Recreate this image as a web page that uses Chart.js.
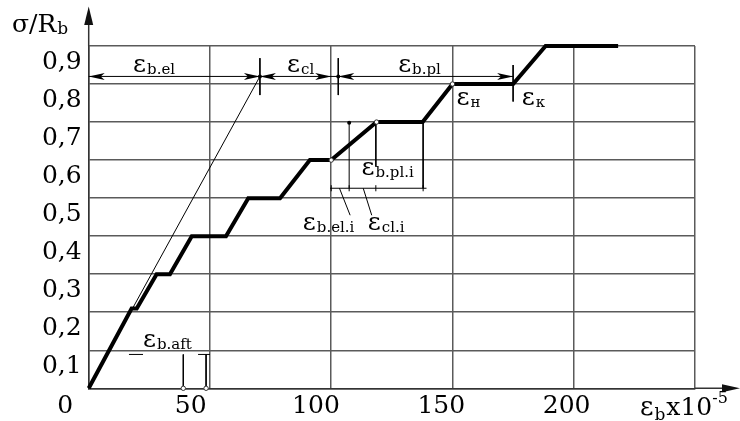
<!DOCTYPE html>
<html><head><meta charset="utf-8">
<script src="https://cdn.jsdelivr.net/npm/chart.js@4/dist/chart.umd.min.js"></script>
<style>html,body{margin:0;padding:0;background:#fff}canvas{display:block}</style>
</head><body>
<canvas id="c" width="740" height="421"></canvas>
<script>
// ---- data: strain εb (x10^-5) vs relative stress σ/Rb ----
const curveX = [0, 17.7, 19.8, 28, 33.5, 42.5, 56.6, 65.8, 78.9, 91.2, 100, 118.7, 137.7, 150, 175, 188.4, 218.3];
const curveY = [0, 0.21, 0.21, 0.3, 0.3, 0.4, 0.4, 0.5, 0.5, 0.6, 0.6, 0.7, 0.7, 0.8, 0.8, 0.9, 0.9];
const tangentX = [0, 70.6];
const tangentY = [0, 0.82];
const kinkX = [100, 118.7, 150];
const kinkY = [0.6, 0.7, 0.8];

const xGridValues = [0, 50, 100, 150, 200, 250];
const xTickValues = [0, 50, 100, 150, 200];
const xTickLabels = ['0', '50', '100', '150', '200'];
const yTickValues = [0, 0.1, 0.2, 0.3, 0.4, 0.5, 0.6, 0.7, 0.8, 0.9];
const yTickLabels = ['', '0,1', '0,2', '0,3', '0,4', '0,5', '0,6', '0,7', '0,8', '0,9'];

// dimension / leader segments [x1, y1, x2, y2]
const dimSegments = [
  [0, 0.82, 175, 0.82],
  [70.6, 0.868, 70.6, 0.771],
  [102.9, 0.868, 102.9, 0.771],
  [175, 0.85, 175, 0.754],
  [99.5, 0.526, 139.3, 0.526],
  [107.4, 0.526, 107.4, 0.698],
  [118.4, 0.7, 118.4, 0.583],
  [137.9, 0.7, 137.9, 0.526],
  [103.4, 0.526, 107.8, 0.455],
  [113.2, 0.526, 116.7, 0.455],
  [100, 0.518, 100, 0.534],
  [107.4, 0.518, 107.4, 0.534],
  [118.4, 0.518, 118.4, 0.534],
  [137.9, 0.518, 137.9, 0.534],
  [16.6, 0.089, 22.4, 0.089],
  [45.1, 0.089, 50, 0.089],
  [39, 0.089, 39, 0],
  [48.4, 0.089, 48.4, 0]
];
const arrowX = [0, 70.6, 70.6, 100, 102.9, 175];
const arrowY = [0.82, 0.82, 0.82, 0.82, 0.82, 0.82];
const arrowDir = [-1, 1, -1, 1, -1, 1];
const dotX = [70.6, 102.9, 107.4];
const dotY = [0.82, 0.82, 0.698];
const ringX = [39, 48.4];
const ringY = [0, 0];

const labelMain = ['ε', 'ε', 'ε', 'ε', 'ε', 'ε', 'ε', 'ε', 'ε'];
const labelSub = ['b.el', 'cl', 'b.pl', 'н', 'к', 'b.pl.i', 'b.el.i', 'cl.i', 'b.aft'];
const labelX = [18.3, 81.8, 127.6, 151.7, 178.6, 112.5, 88.3, 115.1, 22.4];
const labelY = [0.832, 0.832, 0.832, 0.745, 0.745, 0.561, 0.417, 0.417, 0.109];

// ---- styling ----
const FONT = '"DejaVu Serif", "Liberation Serif", serif';
const GRID = '#5a5a5a';

const pts = (xs, ys) => xs.map((x, i) => ({ x: x, y: ys[i] }));

const datasets = [];
datasets.push({ label: 'curve', data: pts(curveX, curveY), borderColor: '#000', borderWidth: 4,
  pointRadius: 0, fill: false, tension: 0, clip: false, borderJoinStyle: 'miter', order: 1 });
datasets.push({ label: 'tangent', data: pts(tangentX, tangentY), borderColor: '#000', borderWidth: 1,
  pointRadius: 0, fill: false, clip: false, order: 2 });
dimSegments.forEach((s, i) => datasets.push({ label: 'dim' + i,
  data: [{ x: s[0], y: s[1] }, { x: s[2], y: s[3] }], borderColor: '#000', borderWidth: 1,
  pointRadius: 0, fill: false, clip: false, order: 3 }));
datasets.push({ label: 'kinks', data: pts(kinkX, kinkY), showLine: false, pointRadius: 2.2,
  pointBackgroundColor: '#fff', pointBorderColor: '#333', pointBorderWidth: 1, clip: false, order: 0 });
datasets.push({ label: 'dots', data: pts(dotX, dotY), showLine: false, pointRadius: 2,
  pointBackgroundColor: '#000', pointBorderColor: '#000', pointBorderWidth: 0, clip: false, order: 0 });
datasets.push({ label: 'rings', data: pts(ringX, ringY), showLine: false, pointRadius: 2.2,
  pointBackgroundColor: '#fff', pointBorderColor: '#333', pointBorderWidth: 1, clip: false, order: 0 });

const annot = {
  id: 'annot',
  afterDatasetsDraw(chart) {
    const ctx = chart.ctx, xs = chart.scales.x, ys = chart.scales.y, a = chart.chartArea;
    ctx.save();
    // axes extensions with arrows
    ctx.strokeStyle = '#333'; ctx.fillStyle = '#111'; ctx.lineWidth = 1.5;
    ctx.beginPath(); ctx.moveTo(a.left, a.top); ctx.lineTo(a.left, 20); ctx.stroke();
    ctx.beginPath(); ctx.moveTo(a.right, a.bottom); ctx.lineTo(728, a.bottom); ctx.stroke();
    ctx.beginPath(); ctx.moveTo(a.left, 6.5); ctx.lineTo(a.left - 4.5, 25); ctx.lineTo(a.left + 4.5, 25); ctx.closePath(); ctx.fill();
    ctx.beginPath(); ctx.moveTo(740, a.bottom); ctx.lineTo(722, a.bottom - 4); ctx.lineTo(722, a.bottom + 4); ctx.closePath(); ctx.fill();
    // dimension arrowheads
    ctx.fillStyle = '#000';
    arrowX.forEach((v, i) => {
      const px = xs.getPixelForValue(v), py = ys.getPixelForValue(arrowY[i]), d = arrowDir[i];
      ctx.beginPath(); ctx.moveTo(px, py);
      ctx.lineTo(px - d * 16, py - 3.5); ctx.lineTo(px - d * 12, py); ctx.lineTo(px - d * 16, py + 3.5);
      ctx.closePath(); ctx.fill();
    });
    // labels
    ctx.fillStyle = '#000'; ctx.textBaseline = 'alphabetic'; ctx.textAlign = 'left';
    labelMain.forEach((m, i) => {
      const px = xs.getPixelForValue(labelX[i]), py = ys.getPixelForValue(labelY[i]);
      ctx.font = '25px ' + FONT; ctx.fillText(m, px, py);
      const w = ctx.measureText(m).width;
      ctx.font = '15px ' + FONT; ctx.fillText(labelSub[i], px + w + 1, py + 2);
    });
    // axis titles
    ctx.font = '25px ' + FONT; ctx.fillText('σ/R', 12, 31.5);
    let w = ctx.measureText('σ/R').width;
    ctx.font = '17px ' + FONT; ctx.fillText('b', 12 + w + 1, 34);
    ctx.font = '26px ' + FONT; ctx.fillText('ε', 640, 415);
    w = ctx.measureText('ε').width;
    ctx.font = '17px ' + FONT; ctx.fillText('b', 640 + w + 1, 420);
    let x2 = 640 + w + 1 + ctx.measureText('b').width + 1;
    ctx.font = '25px ' + FONT; ctx.fillText('x10', x2, 415);
    x2 += ctx.measureText('x10').width;
    ctx.font = '16px ' + FONT; ctx.fillText('-5', x2, 403);
    ctx.restore();
  }
};

new Chart(document.getElementById('c'), {
  type: 'line',
  data: { datasets: datasets },
  options: {
    responsive: false, animation: false, events: [],
    layout: { padding: { left: 0, right: 45, top: 46, bottom: 0 } },
    plugins: { legend: { display: false }, tooltip: { enabled: false } },
    scales: {
      x: {
        type: 'linear', position: 'bottom', min: 0, max: 250,
        afterBuildTicks: s => { s.ticks = xGridValues.map(v => ({ value: v })); },
        ticks: { display: false },
        grid: { color: GRID, lineWidth: 1.5, drawTicks: false },
        border: { display: true, color: '#333', width: 1.5 },
        afterFit: s => { s.height = 0; }
      },
      xl: {
        type: 'linear', position: 'bottom', min: 9.34, max: 251.2,
        afterBuildTicks: s => { s.ticks = xTickValues.map(v => ({ value: v })); },
        ticks: { autoSkip: false, maxRotation: 0, padding: 3, color: '#000',
          font: { family: FONT, size: 25 }, callback: (v, i) => xTickLabels[i] },
        grid: { display: false, drawTicks: false },
        border: { display: false },
        afterFit: s => { s.height = 32.7; }
      },
      y: {
        type: 'linear', min: 0, max: 0.9,
        afterBuildTicks: s => { s.ticks = yTickValues.map(v => ({ value: v })); },
        ticks: { labelOffset: 16, padding: 7, color: '#000', autoSkip: false,
          font: { family: FONT, size: 25 }, callback: (v, i) => yTickLabels[i] },
        grid: { color: GRID, lineWidth: 1.5, drawTicks: false },
        border: { display: true, color: '#333', width: 1.5 },
        afterFit: s => { s.width = 88.7; }
      }
    }
  },
  plugins: [annot]
});
</script>
</body></html>
